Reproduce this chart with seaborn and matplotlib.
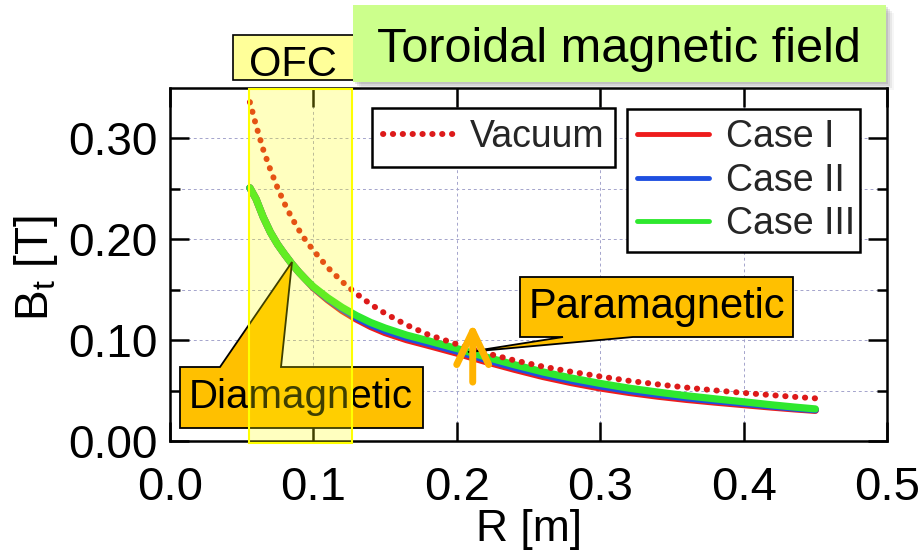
import numpy as np
import pandas as pd
import matplotlib
matplotlib.use("Agg")
import matplotlib.pyplot as plt
import matplotlib.transforms as mtransforms
from matplotlib.patches import Rectangle, Polygon, FancyArrowPatch
from matplotlib.lines import Line2D
import seaborn as sns

# ---- data -------------------------------------------------------------
# major radius R [m]
r_m = [0.0557, 0.060, 0.065, 0.070, 0.075, 0.080, 0.085, 0.090, 0.095, 0.100,
       0.110, 0.120, 0.130, 0.140, 0.150, 0.165, 0.180, 0.200, 0.220, 0.240,
       0.260, 0.280, 0.300, 0.320, 0.340, 0.360, 0.380, 0.400, 0.420, 0.435, 0.450]

# toroidal field B_t [T]
b_vacuum = [0.336, 0.313, 0.289, 0.269, 0.251, 0.235, 0.221, 0.209, 0.198, 0.189,
            0.172, 0.158, 0.146, 0.1355, 0.1265, 0.115, 0.1055, 0.0960, 0.0873, 0.0800,
            0.0738, 0.0686, 0.0640, 0.0597, 0.0562, 0.0530, 0.0502, 0.0477, 0.0454, 0.0438, 0.0423]

b_case1 = [0.251, 0.240, 0.222, 0.207, 0.195, 0.185, 0.1756, 0.1672, 0.1597, 0.1520,
           0.1400, 0.1295, 0.1209, 0.1135, 0.1075, 0.1005, 0.0949, 0.0872, 0.0789, 0.0712,
           0.0640, 0.0579, 0.0526, 0.0482, 0.0445, 0.0413, 0.0386, 0.0361, 0.0336, 0.0319, 0.0304]

b_case2 = [0.251, 0.240, 0.222, 0.207, 0.195, 0.185, 0.1756, 0.1672, 0.1597, 0.1525,
           0.1410, 0.1310, 0.1224, 0.1153, 0.1095, 0.1025, 0.0969, 0.0892, 0.0809, 0.0732,
           0.0660, 0.0599, 0.0546, 0.0500, 0.0463, 0.0429, 0.0400, 0.0374, 0.0346, 0.0327, 0.0310]

b_case3 = [0.251, 0.240, 0.222, 0.207, 0.195, 0.185, 0.1756, 0.1672, 0.1597, 0.1530,
           0.1420, 0.1325, 0.1244, 0.1175, 0.1120, 0.1050, 0.0994, 0.0917, 0.0834, 0.0757,
           0.0685, 0.0624, 0.0571, 0.0524, 0.0485, 0.0449, 0.0418, 0.0389, 0.0358, 0.0337, 0.0318]

case_names = ["Case I", "Case II", "Case III"]
case_colors = ["#ee1c1c", "#1f4fe0", "#2ee82e"]
vacuum_label = "Vacuum"
vacuum_color = "#dd1a1a"

x_ticks = [0.0, 0.1, 0.2, 0.3, 0.4, 0.5]
x_tick_labels = ["0.0", "0.1", "0.2", "0.3", "0.4", "0.5"]
y_ticks = [0.0, 0.1, 0.2, 0.3]
y_tick_labels = ["0.00", "0.10", "0.20", "0.30"]
y_minor_ticks = [0.05, 0.15, 0.25]

ofc_range = [0.0551, 0.1268]

# ---- style ------------------------------------------------------------
sns.set_theme(style="white")
plt.rcParams["font.family"] = ["Liberation Sans", "DejaVu Sans"]
plt.rcParams["mathtext.fontset"] = "custom"
plt.rcParams["mathtext.rm"] = "Liberation Sans"
plt.rcParams["mathtext.it"] = "Liberation Sans"
plt.rcParams["mathtext.default"] = "regular"

W, H = 922, 552
fig = plt.figure(figsize=(W / 100, H / 100), dpi=100, facecolor="white")
ax = fig.add_axes([170 / W, 1 - 441 / H, 717 / W, 353 / H])


def fpos(x, y):
    """pixel position (from top-left) -> figure fraction"""
    return (x / W, 1 - y / H)


# ---- curves -----------------------------------------------------------
df = pd.DataFrame({
    "R": np.tile(r_m, len(case_names)),
    "B": np.concatenate([b_case1, b_case2, b_case3]),
    "case": np.repeat(case_names, len(r_m)),
})
sns.lineplot(data=df, x="R", y="B", hue="case", hue_order=case_names,
             palette=dict(zip(case_names, case_colors)), linewidth=5.2,
             solid_capstyle="round", estimator=None, sort=False,
             legend=False, ax=ax, zorder=3)
vac_dash = (0, (0.05, 1.6))
sns.lineplot(x=r_m, y=b_vacuum, color=vacuum_color, linewidth=4.3,
             linestyle=vac_dash, dash_capstyle="round",
             estimator=None, sort=False, legend=False, ax=ax, zorder=4)

# ---- axes -------------------------------------------------------------
ax.set_xlim(0, 0.5)
ax.set_ylim(0, 0.35)
ax.set_xticks(x_ticks)
ax.set_xticklabels(x_tick_labels, fontsize=34)
ax.set_yticks(y_ticks)
ax.set_yticklabels(y_tick_labels, fontsize=33)
ax.set_yticks(y_minor_ticks, minor=True)
ax.tick_params(which="major", direction="in", length=13.5, width=1.8, color="black",
               top=True, right=True, bottom=True, left=True, labelcolor="black")
ax.tick_params(axis="x", which="major", pad=18)
ax.tick_params(axis="y", which="major", pad=9)
ax.tick_params(axis="y", which="minor", direction="in", length=7, width=1.8,
               color="black", left=True, right=True)
for s in ax.spines.values():
    s.set_visible(True)
    s.set_color("black")
    s.set_linewidth(1.8)

ax.grid(False)
grid_kw = dict(color="#a4a4cc", linewidth=0.7, linestyle=(0, (3, 3)))
ax.grid(True, axis="x", which="major", **grid_kw)
ax.grid(True, axis="y", which="both", **grid_kw)
ax.set_axisbelow(True)

ax.set_xlabel("R [m]", fontsize=32, color="black", va="baseline")
ax.xaxis.set_label_coords(0.5, (441 - 541) / 353)
ax.set_ylabel("B$_t$ [T]", fontsize=33, color="black", va="center")
ax.yaxis.set_label_coords((36 - 170) / 717, (441 - 268) / 353)

# ---- legends ----------------------------------------------------------
leg_common = dict(loc="upper left", mode="expand", borderaxespad=0,
                  bbox_transform=fig.transFigure, fontsize=27, frameon=True,
                  fancybox=False, framealpha=1, edgecolor="black")

vac_handle = Line2D([], [], color=vacuum_color, lw=4.3,
                    linestyle=vac_dash, dash_capstyle="round")
x0, y0 = fpos(372, 108)
x1, y1 = fpos(615, 165)
leg_vac = ax.legend([vac_handle], [vacuum_label],
                    bbox_to_anchor=(x0, y1, x1 - x0, y0 - y1),
                    borderpad=0.3, handlelength=1.87, handletextpad=0.45,
                    **leg_common)
leg_vac.get_frame().set_linewidth(1.8)
ax.add_artist(leg_vac)

case_handles = [Line2D([], [], color=c, lw=3.5, solid_capstyle="round")
                for c in case_colors]
x0, y0 = fpos(627, 109)
x1, y1 = fpos(860, 248)
leg_case = ax.legend(case_handles, case_names,
                     bbox_to_anchor=(x0, y1, x1 - x0, y0 - y1),
                     borderpad=0.27, labelspacing=0.2, handlelength=1.92,
                     handletextpad=0.45, **leg_common)
leg_case.get_frame().set_linewidth(1.8)

# ---- callouts ---------------------------------------------------------
callout_kw = dict(transform=fig.transFigure, clip_on=False, facecolor="#ffc000",
                  edgecolor="black", linewidth=1.3, joinstyle="miter")
dia_shape = [(180, 367), (220, 367), (292, 262), (281, 367), (423, 367),
             (423, 428), (180, 428)]
ax.add_patch(Polygon([fpos(*p) for p in dia_shape], closed=True, zorder=6,
                     **callout_kw))
ax.text(*fpos(301, 408), "Diamagnetic", transform=fig.transFigure,
        ha="center", va="baseline", fontsize=29, color="black", zorder=6.5)

para_shape = [(520, 277), (793, 277), (793, 337), (633, 337), (468, 352),
              (563, 337), (520, 337)]
ax.add_patch(Polygon([fpos(*p) for p in para_shape], closed=True, zorder=6,
                     **callout_kw))
ax.text(*fpos(657, 318), "Paramagnetic", transform=fig.transFigure,
        ha="center", va="baseline", fontsize=30, color="black", zorder=6.5)

ax.add_patch(FancyArrowPatch((0.2111, 0.0584), (0.2111, 0.1168),
                             arrowstyle="->,head_length=24,head_width=11.5",
                             mutation_scale=1, lw=5, color="#ffb300",
                             capstyle="round", joinstyle="round",
                             shrinkA=0, shrinkB=0, zorder=7))

# OFC region overlay
trans = mtransforms.blended_transform_factory(ax.transData, ax.transAxes)
ax.add_patch(Rectangle((ofc_range[0], -0.0057), ofc_range[1] - ofc_range[0], 1.0027,
                       transform=trans, facecolor=(1, 1, 0, 0.25),
                       edgecolor="#ffff00", linewidth=1.5, zorder=8, clip_on=False))

# OFC label
ax.add_patch(Rectangle(fpos(233, 80), 121 / W, 45 / H, transform=fig.transFigure,
                       facecolor="#ffff99", edgecolor="black", linewidth=1.2,
                       zorder=8.5, clip_on=False))
ax.text(*fpos(293, 76), "OFC", transform=fig.transFigure, ha="center",
        va="baseline", fontsize=30, color="black", zorder=8.6)

# title panel with soft shadow
for off, al in [(2, 0.16), (4, 0.13), (6, 0.09), (8, 0.05)]:
    ax.add_patch(Rectangle(fpos(353 + off, 82 + off), 533 / W, 77 / H,
                           transform=fig.transFigure, facecolor=(0.35, 0.35, 0.35, al),
                           edgecolor="none", zorder=9, clip_on=False))
ax.add_patch(Rectangle(fpos(353, 82), 533 / W, 77 / H, transform=fig.transFigure,
                       facecolor="#ccff8c", edgecolor="none", zorder=9.5,
                       clip_on=False))
ax.text(*fpos(619, 62), "Toroidal magnetic field", transform=fig.transFigure,
        ha="center", va="baseline", fontsize=35, color="black", zorder=10)

fig.savefig("out.png", dpi=100, facecolor="white")
